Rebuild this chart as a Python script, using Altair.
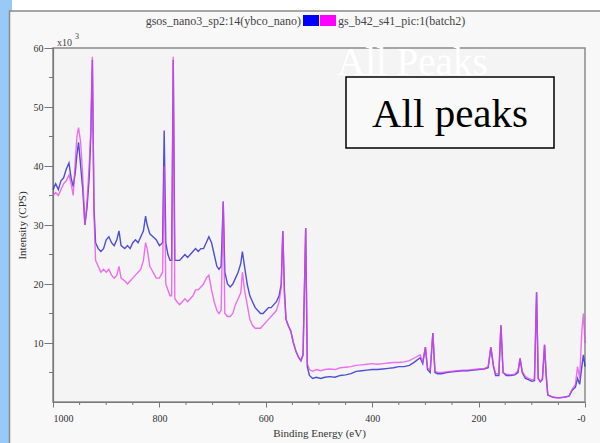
import altair as alt
import pandas as pd

# ---------------- data (binding energy in eV, intensity in 10^3 CPS) ----------------
energy = [
    1000, 995, 990, 985, 980, 975, 970, 966, 962, 958,
    955, 952, 948, 944, 940, 936, 932, 929, 926, 923,
    920, 915, 910, 905, 900, 895, 890, 885, 880, 876,
    872, 865, 860, 855, 850, 845, 840, 835, 830, 826,
    823, 818, 812, 806, 800, 794, 791, 788, 784, 780,
    777, 774, 771, 767, 762, 757, 752, 747, 742, 737,
    732, 727, 722, 717, 712, 707, 702, 697, 692, 688,
    684, 680, 677, 672, 667, 662, 657, 652, 647, 644,
    640, 635, 630, 625, 620, 615, 610, 605, 600, 595,
    590, 585, 580, 575, 571, 568, 565, 562, 558, 553,
    548, 543, 538, 534, 530, 525, 522, 518, 512, 505,
    497, 489, 480, 470, 460, 450, 440, 430, 420, 410,
    400, 390, 380, 370, 360, 350, 340, 330, 320, 310,
    305, 300, 296, 291, 286, 282, 277, 270, 260, 250,
    240, 230, 220, 210, 200, 190, 182, 177, 172, 168,
    162, 158, 154, 148, 140, 132, 126, 122, 118, 112,
    106, 100, 95, 91, 88, 84, 80, 76, 73, 70,
    60, 50, 40, 30, 24, 18, 14, 10, 6, 3, 0,
]
ybco_nano = [
    36, 37, 36, 37.5, 38, 39.5, 40.5, 38, 36.5, 39,
    42, 44, 40, 36, 30, 33, 38, 45, 58, 33,
    27, 26, 25.5, 26, 27.5, 28, 27, 26.5, 27.5, 29,
    26.5, 26, 26.5, 26, 27, 27.5, 27, 28, 29, 31.5,
    30, 28.5, 28, 27.5, 26.5, 27, 46, 27, 25, 24,
    24, 58, 24, 24, 24, 24.5, 25, 24.5, 25, 25.5,
    26, 25.5, 26, 26, 27, 28, 27, 25, 23, 22.5,
    23, 34, 22, 20, 19.5, 20, 21, 22, 23.5, 25.5,
    23, 20, 18, 17, 16, 15.5, 15, 15, 15.5, 16,
    16, 16.5, 17, 18, 20, 29, 19, 14, 13, 12,
    10, 8.5, 7.5, 7, 8, 29.5, 6, 4.5, 4, 4.2,
    4, 4.2, 4.3, 4.2, 4.5, 4.6, 4.8, 5.2, 5.3, 5.4,
    5.5, 5.5, 5.6, 5.7, 5.8, 6, 6, 6.2, 6.8, 7.5,
    6.5, 9.3, 5.5, 5, 11.7, 5, 4.8, 4.8, 5, 5.1,
    5.2, 5.3, 5.3, 5.4, 5.5, 5.6, 5.8, 9.3, 6, 4.5,
    4.5, 13, 5, 4.5, 4.5, 4.6, 5, 7.4, 5, 4,
    3.8, 3.5, 3.6, 18.6, 4, 3.4, 3.8, 9.7, 4.5, 1.2,
    0.8, 0.7, 0.8, 1, 2, 2.5, 4, 3, 6, 8, 6,
]
batch2 = [
    35, 35.5, 35, 36, 37, 37.5, 38.5, 37, 35, 41,
    45, 46.5, 44, 38, 30, 34, 40, 46, 58.5, 32,
    24, 23, 22, 22.5, 22, 22.5, 21.5, 21, 21.5, 23,
    21, 20.5, 20, 20.5, 21, 21.5, 22, 22.5, 24, 27,
    26, 23, 22, 21, 21, 22, 40, 20, 19, 18,
    18, 58.5, 17.5, 17, 16.5, 17, 17.5, 17, 17.5, 18,
    19, 19, 19.5, 20, 21, 21.5, 19, 17, 15.5, 15,
    15.5, 34, 15, 14.5, 14.5, 15, 16.5, 17.5, 18.5, 22,
    19, 16.5, 14, 13, 12.5, 12.5, 12.5, 13, 13.5, 14,
    14.5, 15, 15.5, 17, 19.5, 29, 18, 14, 13, 12,
    10, 8.5, 7.5, 7, 8, 29.5, 6.5, 5.5, 5.2, 5.5,
    5.3, 5.5, 5.6, 5.5, 5.8, 5.9, 6, 6.2, 6.3, 6.4,
    6.5, 6.4, 6.5, 6.6, 6.7, 6.7, 6.8, 7, 7.5, 8,
    6.8, 9.3, 5.8, 5.4, 11.7, 5.2, 5, 5, 5.1, 5.2,
    5.3, 5.4, 5.4, 5.5, 5.6, 5.6, 6, 9.3, 6.2, 4.8,
    4.8, 13, 5, 4.7, 4.6, 4.7, 5.3, 7.4, 5.2, 4.3,
    4, 3.8, 3.8, 18.6, 4, 3.5, 4, 9.7, 4.8, 1.2,
    0.8, 0.7, 0.8, 1, 2.2, 3, 6, 4, 12, 15, 10,
]
series_names = ["gsos_nano3_sp2:14(ybco_nano)", "gs_b42_s41_pic:1(batch2)"]
series_colors = ["#3030d0", "#ee40ee"]
x_major = [0, 200, 400, 600, 800, 1000]
x_minor = [v for v in range(0, 1001, 50) if v % 200 != 0]
y_major = [10, 20, 30, 40, 50, 60]
y_minor = [5, 15, 25, 35, 45, 55]

# ---------------- layout ----------------
PAD_L, PAD_T, PAD_R, PAD_B = 53, 48, 15, 41
W, H = 600 - PAD_L - PAD_R, 443 - PAD_T - PAD_B
FONT = "Liberation Serif"
AX = "#777777"

rows = []
for e, b, m in zip(energy, ybco_nano, batch2):
    rows.append({"energy": e, "value": b, "series": series_names[0]})
    rows.append({"energy": e, "value": m, "series": series_names[1]})
df = pd.DataFrame(rows)

xscale = alt.Scale(domain=[0, 1000], reverse=True, nice=False, zero=False)
yscale = alt.Scale(domain=[0, 60], nice=False, zero=False)
cscale = alt.Scale(domain=series_names, range=series_colors)

one = pd.DataFrame({"a": [0]})

def px(x):
    return x - PAD_L

def py(y):
    return y - PAD_T

# page decorations
top_strip = alt.Chart(one).mark_rect(fill="white").encode(
    x=alt.value(px(12)), x2=alt.value(px(600)), y=alt.value(py(0)), y2=alt.value(py(11)))
blue_strip = alt.Chart(one).mark_rect(fill="#99c9f7").encode(
    x=alt.value(px(0)), x2=alt.value(px(9)), y=alt.value(py(0)), y2=alt.value(py(443)))
blue_corner = alt.Chart(one).mark_rect(fill="#99c9f7").encode(
    x=alt.value(px(0)), x2=alt.value(px(12)), y=alt.value(py(0)), y2=alt.value(py(11)))
panel = alt.Chart(one).mark_rect(fill=None, stroke="#8a8a8a", strokeWidth=1.5).encode(
    x=alt.value(px(9.5)), x2=alt.value(px(601)), y=alt.value(py(11)), y2=alt.value(py(444)))

base = alt.Chart(df)
blue_line = base.transform_filter(alt.datum.series == series_names[0]).mark_line(
    strokeWidth=1.4, opacity=0.85).encode(
    x=alt.X("energy:Q", scale=xscale, axis=alt.Axis(
        values=x_major, format="d", tickSize=5,
        labelExpr="datum.value === 0 ? '-0' : datum.label",
        title="Binding Energy (eV)", labelPadding=6, titlePadding=4)),
    y=alt.Y("value:Q", scale=yscale, axis=alt.Axis(
        values=y_major, format="d", tickSize=9, labelPadding=1,
        title="Intensity (CPS)", titlePadding=6)),
    color=alt.Color("series:N", scale=cscale, legend=None),
)
mag_line = base.transform_filter(alt.datum.series == series_names[1]).mark_line(
    strokeWidth=1.4, opacity=0.75).encode(
    x=alt.X("energy:Q", scale=xscale),
    y=alt.Y("value:Q", scale=yscale),
    color=alt.Color("series:N", scale=cscale, legend=None),
)

x_minor_ticks = alt.Chart(pd.DataFrame({"v": x_minor})).mark_rule(color=AX, strokeWidth=1).encode(
    x=alt.X("v:Q", scale=xscale), y=alt.value(H), y2=alt.value(H + 3))
y_minor_ticks = alt.Chart(pd.DataFrame({"v": y_minor})).mark_rule(color=AX, strokeWidth=1).encode(
    y=alt.Y("v:Q", scale=yscale), x=alt.value(-4), x2=alt.value(0))

# title line with legend swatches
title_left = alt.Chart(one).mark_text(font=FONT, fontSize=12, align="right", color="#444").encode(
    x=alt.value(px(301)), y=alt.value(py(21)), text=alt.value(series_names[0]))
sw_blue = alt.Chart(one).mark_rect(fill="#0000ff").encode(
    x=alt.value(px(303)), x2=alt.value(px(319)), y=alt.value(py(15)), y2=alt.value(py(26)))
sw_mag = alt.Chart(one).mark_rect(fill="#ff00ff").encode(
    x=alt.value(px(320)), x2=alt.value(px(336)), y=alt.value(py(15)), y2=alt.value(py(26)))
title_right = alt.Chart(one).mark_text(font=FONT, fontSize=12, align="left", color="#444").encode(
    x=alt.value(px(338)), y=alt.value(py(21)), text=alt.value(series_names[1]))

# x10^3 multiplier
mult = alt.Chart(one).mark_text(font=FONT, fontSize=10, align="left", baseline="alphabetic", color="#444").encode(
    x=alt.value(px(57)), y=alt.value(py(46)), text=alt.value("x10"))
mult_exp = alt.Chart(one).mark_text(font=FONT, fontSize=8, align="left", baseline="alphabetic", color="#444").encode(
    x=alt.value(px(75)), y=alt.value(py(39)), text=alt.value("3"))

# annotations
all_peaks_white = alt.Chart(one).mark_text(font=FONT, fontSize=39, align="left", baseline="alphabetic", color="white").encode(
    x=alt.value(px(337)), y=alt.value(py(75)), text=alt.value("All Peaks"))
box = alt.Chart(one).mark_rect(fill="#f9f9f9", stroke="black", strokeWidth=1.5).encode(
    x=alt.value(px(346)), x2=alt.value(px(554)), y=alt.value(py(77)), y2=alt.value(py(148)))
box_text = alt.Chart(one).mark_text(font=FONT, fontSize=41, align="center", baseline="alphabetic", color="black").encode(
    x=alt.value(px(450)), y=alt.value(py(127)), text=alt.value("All peaks"))

chart = alt.layer(
    top_strip, blue_strip, blue_corner, panel,
    blue_line, mag_line, x_minor_ticks, y_minor_ticks,
    title_left, sw_blue, sw_mag, title_right, mult, mult_exp,
    all_peaks_white, box, box_text,
).properties(
    width=W, height=H,
    autosize=alt.AutoSizeParams(type="none"),
    padding={"left": PAD_L, "top": PAD_T, "right": PAD_R, "bottom": PAD_B},
    background="#f8f8f8",
).configure_view(
    stroke="#8a8a8a", strokeWidth=1.5, fill="#f4f4f4"
).configure_axis(
    grid=False, domainColor=AX, tickColor=AX, domainWidth=1.2,
    labelFont=FONT, labelFontSize=10, labelColor="#333",
    titleFont=FONT, titleFontSize=11, titleFontWeight="normal", titleColor="#333",
)

chart.save("out.html", embed_options={"renderer": "svg", "actions": False})
